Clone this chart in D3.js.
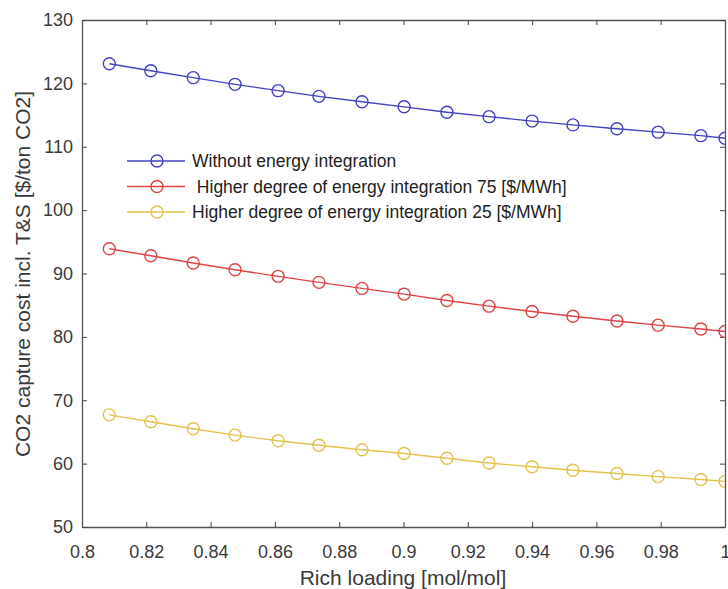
<!DOCTYPE html>
<html>
<head>
<meta charset="utf-8">
<script src="https://cdn.jsdelivr.net/npm/d3@7"></script>
<style>
  body { margin: 0; background: #fff; }
  text { font-family: "Liberation Sans", Arial, sans-serif; }
</style>
</head>
<body>
<div class="canvas"></div>
<script>
// rich loading values [mol/mol]
const loading = [0.8085, 0.8214, 0.8346, 0.8476, 0.8610, 0.8737, 0.8871, 0.9002,
                 0.9135, 0.9266, 0.9400, 0.9527, 0.9664, 0.9792, 0.9925, 1.0];

// capture cost per series [$/ton CO2]
const noIntegration = [123.1, 122.0, 120.9, 119.85, 118.85, 117.95, 117.1, 116.3,
                       115.45, 114.75, 114.05, 113.45, 112.85, 112.3, 111.75, 111.35];
const integration75 = [93.9, 92.8, 91.65, 90.6, 89.55, 88.6, 87.65, 86.75,
                       85.75, 84.85, 84.0, 83.25, 82.5, 81.85, 81.25, 80.85];
const integration25 = [67.7, 66.6, 65.5, 64.5, 63.6, 62.9, 62.2, 61.6,
                       60.85, 60.1, 59.5, 58.95, 58.45, 57.95, 57.5, 57.2];

const seriesNames = ['Without energy integration',
                     ' Higher degree of energy integration 75 [$/MWh]',
                     'Higher degree of energy integration 25 [$/MWh]'];
const seriesColours = ['#4242c4', '#de4444', '#e2c24e'];

const xTicks = [0.8, 0.82, 0.84, 0.86, 0.88, 0.9, 0.92, 0.94, 0.96, 0.98, 1];
const yTicks = [50, 60, 70, 80, 90, 100, 110, 120, 130];

const margin = {top: 20, right: 3, bottom: 62, left: 82},
    width = 728 - margin.left - margin.right,
    height = 589 - margin.top - margin.bottom;

const svg = d3.select('.canvas').append('svg')
    .attr('width', 728)
    .attr('height', 589);

const graph = svg.append('g')
    .attr('transform', `translate(${margin.left}, ${margin.top})`);

const x = d3.scaleLinear().domain([0.8, 1]).range([0, width]);
const y = d3.scaleLinear().domain([50, 130]).range([height, 0]);

// clip like matlab does at the axes box
svg.append('defs').append('clipPath').attr('id', 'clip')
  .append('rect').attr('width', width).attr('height', height);

// axes with inward ticks
const xAxis = graph.append('g')
    .attr('transform', `translate(0, ${height})`)
    .call(d3.axisBottom(x).tickValues(xTicks).tickSizeInner(-5).tickSizeOuter(0)
      .tickPadding(18).tickFormat(d => d3.format('')(+d.toFixed(2))));
const xTop = graph.append('g')
    .call(d3.axisTop(x).tickValues(xTicks).tickSizeInner(-5).tickSizeOuter(0).tickFormat(''));
const yAxis = graph.append('g')
    .call(d3.axisLeft(y).tickValues(yTicks).tickSizeInner(-5).tickSizeOuter(0).tickPadding(9));
const yRight = graph.append('g')
    .attr('transform', `translate(${width}, 0)`)
    .call(d3.axisRight(y).tickValues(yTicks).tickSizeInner(-5).tickSizeOuter(0).tickFormat(''));

[xAxis, xTop, yAxis, yRight].forEach(a => {
  a.select('.domain').attr('stroke', '#555').attr('stroke-width', 1.3);
  a.selectAll('.tick line').attr('stroke', '#444');
  a.selectAll('.tick text').attr('fill', '#3a3a3a').style('font-size', '18px');
});

// axis labels
svg.append('text')
    .attr('x', 403)
    .attr('y', 585)
    .attr('text-anchor', 'middle')
    .attr('fill', '#3a3a3a')
    .style('font-size', '21px')
    .text('Rich loading [mol/mol]');

svg.append('text')
    .attr('transform', `translate(30, 274) rotate(-90)`)
    .attr('text-anchor', 'middle')
    .attr('fill', '#3a3a3a')
    .style('font-size', '21px')
    .text('CO2 capture cost incl. T&S [$/ton CO2]');

// lines and markers
const allSeries = [noIntegration, integration75, integration25];
const line = d3.line().x(d => x(d[0])).y(d => y(d[1]));

const plot = graph.append('g').attr('clip-path', 'url(#clip)');

allSeries.forEach((vals, i) => {
  const pts = loading.map((l, j) => [l, vals[j]]);
  plot.append('path')
      .attr('d', line(pts))
      .attr('fill', 'none')
      .attr('stroke', seriesColours[i])
      .attr('stroke-width', 1.4);
  plot.selectAll(null)
      .data(pts)
      .enter()
      .append('circle')
      .attr('cx', d => x(d[0]))
      .attr('cy', d => y(d[1]))
      .attr('r', 6)
      .attr('fill', 'none')
      .attr('stroke', seriesColours[i])
      .attr('stroke-width', 1.4);
});

// legend (no box)
const legend = svg.append('g').attr('transform', 'translate(127, 161)');
seriesNames.forEach((name, i) => {
  const row = legend.append('g').attr('transform', `translate(0, ${i * 25.5})`);
  row.append('line')
      .attr('x1', 0).attr('x2', 58)
      .attr('stroke', seriesColours[i]).attr('stroke-width', 1.4);
  row.append('circle')
      .attr('cx', 30).attr('r', 6)
      .attr('fill', 'none')
      .attr('stroke', seriesColours[i]).attr('stroke-width', 1.4);
  row.append('text')
      .attr('x', 65)
      .attr('dy', '0.35em')
      .attr('fill', '#222')
      .style('font-size', '17.5px')
      .style('white-space', 'pre')
      .text(name);
});
</script>
</body>
</html>
